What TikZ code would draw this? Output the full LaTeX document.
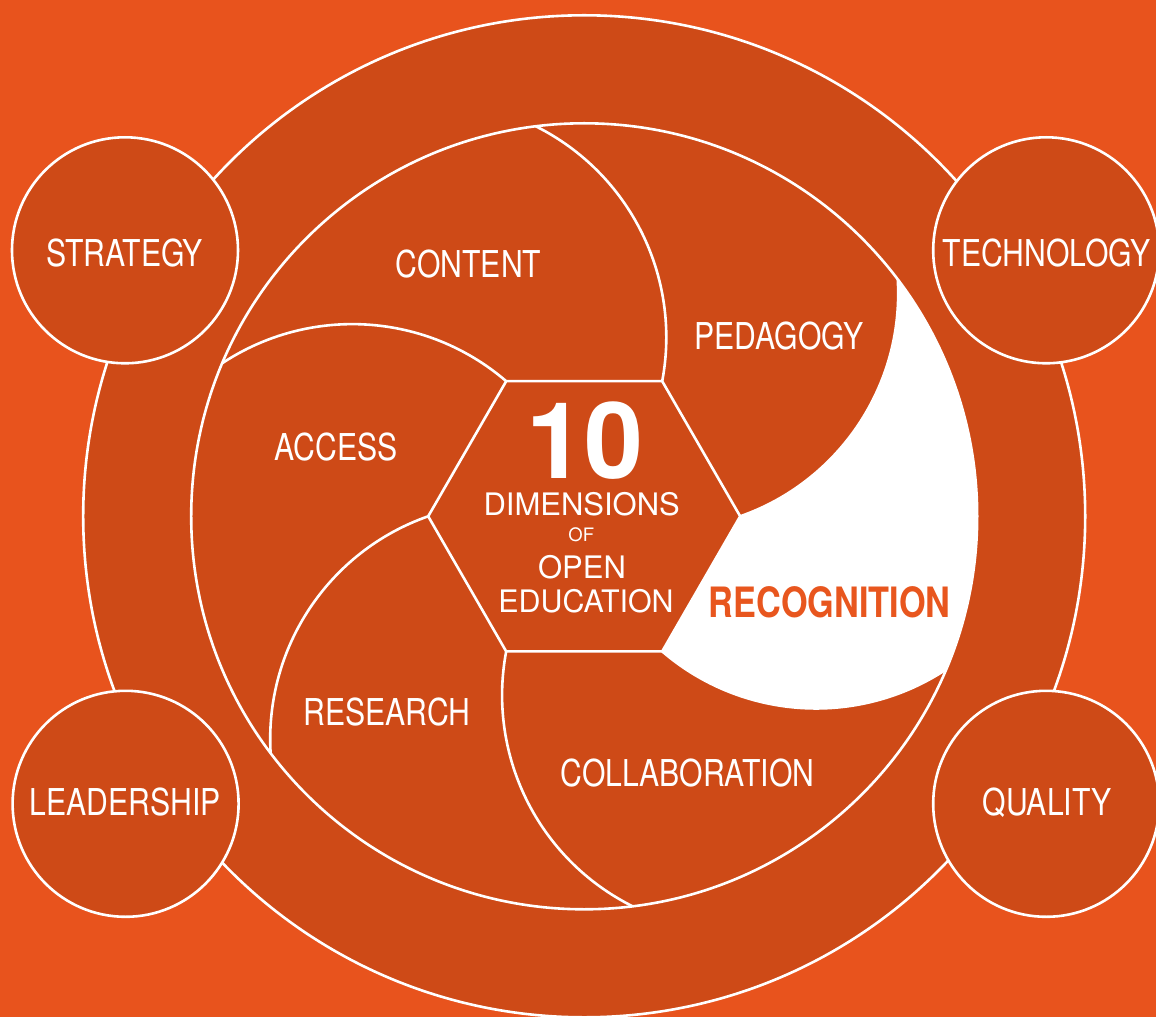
\documentclass[tikz,border=0pt]{standalone}
\usepackage{fontspec}
\setmainfont{TeX Gyre Heros}
\newfontfamily\cnd{TeX Gyre Heros}[FakeStretch=0.815]
\newfontfamily\cndb{TeX Gyre Heros}[FakeStretch=0.82]
\definecolor{bgorange}{RGB}{232,83,29}
\definecolor{discorange}{RGB}{206,74,23}
\definecolor{recog}{RGB}{232,86,30}
\tikzset{
  wline/.style={draw=white, line width=2.6pt},
  smallc/.style={wline, fill=discorange},
  lbl/.style={text=white, font=\cnd\fontsize{37}{40}\selectfont, anchor=base, inner sep=0pt},
  ctr/.style={text=white, anchor=base, inner sep=0pt, text depth=0pt},
}
\begin{document}
\begin{tikzpicture}[x=1pt,y=1pt]
\useasboundingbox (-584.2,-500.7) rectangle (571.8,516.3);
\fill[bgorange] (-584.2,-500.7) rectangle (571.8,516.3);
% outer disc
\draw[wline, fill=discorange] (0,0) circle[radius=501];
% small circles
\draw[smallc] (-459.2,266) circle[radius=113] node (strategy) {};
\draw[smallc] (462,266) circle[radius=113] node (technology) {};
\draw[smallc] (-458.6,-287.5) circle[radius=113] node (leadership) {};
\draw[smallc] (462,-287.5) circle[radius=113] node (quality) {};
% inner circle
\draw[wline, fill=discorange] (0,0) circle[radius=393];
% recognition white region
\fill[white] (0:156) arc[start angle=-70.70, end angle=3.44, radius=236]
  arc[start angle=37.07, end angle=-22.93, radius=393]
  arc[start angle=-56.56, end angle=-130.70, radius=236] -- cycle;
% hexagon
\draw[wline, line join=miter] (0:156) -- (60:156) -- (120:156) -- (180:156) -- (240:156) -- (300:156) -- cycle;
% pinwheel arcs
\foreach \k in {0,...,5}{
  \pgfmathsetmacro{\sa}{-70.70+60*\k}
  \pgfmathsetmacro{\ea}{3.44+60*\k}
  \pgfmathsetmacro{\va}{60*\k}
  \draw[wline] (\va:156) arc[start angle=\sa, end angle=\ea, radius=236];
}
% outer labels
\node[lbl] (tstrategy) at (-459.7,249.6) {STRATEGY};
\node[lbl] (ttechnology) at (462.6,249.6) {TECHNOLOGY};
\node[lbl] (tleadership) at (-459.2,-298.7) {LEADERSHIP};
\node[lbl] (tquality) at (462.8,-298.7) {QUALITY};
% segment labels
\node[lbl] (tcontent) at (-115.7,238.5) {CONTENT};
\node[lbl] (tpedagogy) at (194.8,166.3) {PEDAGOGY};
\node[lbl] (taccess) at (-248.2,55.3) {ACCESS};
\node[lbl] (tresearch) at (-197.2,-208.7) {RESEARCH};
\node[lbl] (tcollab) at (103.3,-270.4) {COLLABORATION};
\node[anchor=base, inner sep=0pt, text=recog, font=\cndb\bfseries\fontsize{41.8}{44}\selectfont] (trecog) at (245.5,-101.4) {RECOGNITION};
% centre text
\node[ctr, text height=75pt, font=\bfseries\fontsize{106}{110}\selectfont] (tten) at (0.8,38) {10};
\node[ctr, text height=22.5pt, font=\fontsize{31}{34}\selectfont] (tdim) at (-2.5,1.2) {DIMENSIONS};
\node[ctr, text height=13.5pt, font=\fontsize{18.5}{20}\selectfont] (tof) at (-2.9,-25.4) {OF};
\node[ctr, text height=22.5pt, font=\fontsize{31}{34}\selectfont] (topen) at (-2.2,-61.8) {OPEN};
\node[ctr, text height=22.5pt, font=\fontsize{31}{34}\selectfont, xscale=0.98] (tedu) at (1.8,-95.8) {EDUCATION};
\end{tikzpicture}
\end{document}
